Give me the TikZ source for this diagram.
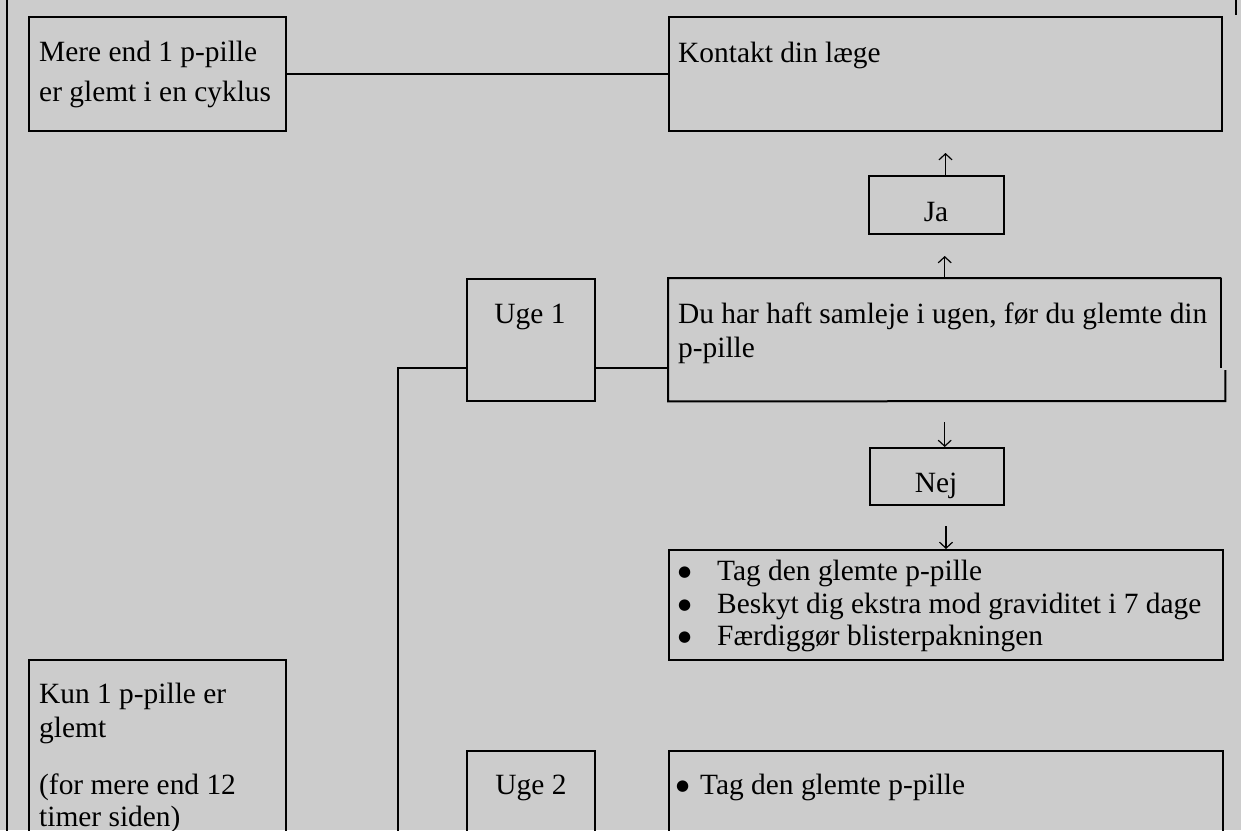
\documentclass[tikz,border=0pt]{standalone}
\usepackage{fontspec}
\setmainfont{Liberation Serif}
\newfontfamily\dotfont{DejaVu Sans}
\usetikzlibrary{arrows.meta}
\definecolor{bg}{HTML}{CCCCCC}
\newcommand\diafont{\fontsize{29.4}{34}\selectfont}
\newcommand\bigbullet{\raisebox{3.5pt}{\dotfont\fontsize{15}{15}\selectfont ●}}
\begin{document}
\begin{tikzpicture}[x=1pt,y=-1pt,
  edge/.style={line width=2pt},
  box/.style={draw, line width=2pt, anchor=north west, inner sep=0pt},
  txt/.style={anchor=base west, inner sep=0pt, font=\diafont},
  ctxt/.style={anchor=base, inner sep=0pt, font=\diafont},
  arr/.style={line width=1.2pt, -{Straight Barb[length=6pt,width=13pt]}}]
\fill[bg] (0,0) rectangle (1241,830);
\useasboundingbox (0,0) rectangle (1241,830);
\clip (0,0) rectangle (1241,830);

% outer frame fragments
\coordinate (frameTop) at (7,-5);
\coordinate (frameBot) at (7,840);
\draw[edge] (frameTop) -- (frameBot);
\coordinate (trTop) at (1236,-5);
\coordinate (trBot) at (1236,15);
\draw[edge] (trTop) -- (trBot);

% boxes
\node[box, minimum width=257pt, minimum height=114pt] (mere) at (28,16) {};
\node[box, minimum width=553pt, minimum height=114pt] (kontakt) at (668,16) {};
\node[box, minimum width=135pt, minimum height=58pt] (ja) at (868,175) {};
\node[box, minimum width=128pt, minimum height=122pt] (uge1) at (466,278) {};
\node[anchor=north west, inner sep=0pt, minimum width=553pt, minimum height=123pt] (duhar) at (668,278) {};
\node[box, minimum width=134pt, minimum height=57pt] (nej) at (869,447) {};
\node[box, minimum width=554pt, minimum height=110pt] (bul1) at (668,549) {};
\node[box, minimum width=257pt, minimum height=220pt] (kun) at (28,659) {};
\node[box, minimum width=128pt, minimum height=130pt] (uge2) at (466,750) {};
\node[box, minimum width=554pt, minimum height=130pt] (bul2) at (668,750) {};

% outline of the "Du har" box with its small jog on the right
\draw[edge] (duhar.north east) -- ++(0,90) coordinate (jogA);
\draw[edge] ([xshift=4pt,yshift=-2pt]jogA) -- ++(0,31) coordinate (jogB)
  -- (duhar.south west) -- (duhar.north west) -- (duhar.north east);

% texts
\node[txt] (mereA) at (39,61) {Mere end 1 p-pille};
\node[txt] (mereB) at (39,101) {er glemt i en cyklus};
\node[txt] (kontaktT) at (678,62) {Kontakt din læge};
\node[ctxt] (jaT) at (936,221) {Ja};
\node[ctxt] (uge1T) at (530,323) {Uge 1};
\node[txt] (duharA) at (678,323) {Du har haft samleje i ugen, før du glemte din};
\node[txt] (duharB) at (678,357) {p-pille};
\node[ctxt] (nejT) at (936,492) {Nej};
\node[txt] (b1) at (678,580) {\bigbullet};
\node[txt] (b1T) at (717,580) {Tag den glemte p-pille};
\node[txt] (b2) at (678,613) {\bigbullet};
\node[txt] (b2T) at (717,613) {Beskyt dig ekstra mod graviditet i 7 dage};
\node[txt] (b3) at (678,645) {\bigbullet};
\node[txt] (b3T) at (717,645) {Færdiggør blisterpakningen};
\node[txt] (kunA) at (39,703) {Kun 1 p-pille er};
\node[txt] (kunB) at (39,737) {glemt};
\node[txt] (kunC) at (39,794) {(for mere end 12};
\node[txt] (kunD) at (39,826) {timer siden)};
\node[ctxt] (uge2T) at (531,794) {Uge 2};
\node[txt] (bul2B) at (676,794) {\bigbullet};
\node[txt] (bul2T) at (700,794) {Tag den glemte p-pille};

% connectors
\draw[edge] (mere.east) -- (kontakt.west);
\coordinate (bend) at (398,368);
\coordinate (leftBot) at (398,840);
\draw[edge] (leftBot) -- (bend) -- (uge1.west |- bend);
\draw[edge] (uge1.east |- bend) -- (duhar.west |- bend);

% arrows
\draw[arr, shorten >=21pt] (kontakt.south |- ja.north) -- (kontakt.south);
\draw[arr, shorten >=21pt] (duhar.north) -- (duhar.north |- ja.south);
\draw[arr, shorten <=21pt] (duhar.south) -- (duhar.south |- nej.north);
\draw[arr, shorten <=20pt] (bul1.north |- nej.south) -- (bul1.north);
\end{tikzpicture}
\end{document}
